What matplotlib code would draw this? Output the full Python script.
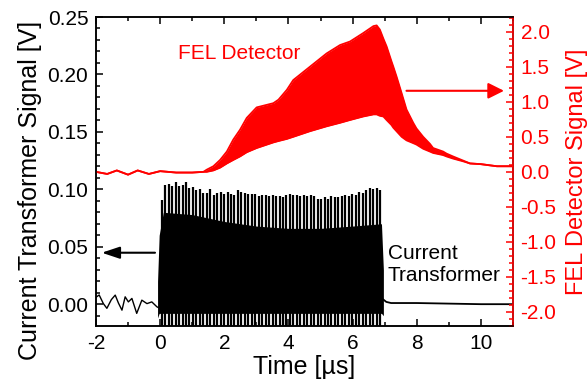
import numpy as np
import matplotlib
matplotlib.use("Agg")
import matplotlib.pyplot as plt
from matplotlib.ticker import MultipleLocator, FormatStrFormatter

plt.rcParams['font.family'] = ['Liberation Sans', 'DejaVu Sans']
plt.rcParams['axes.unicode_minus'] = False

# FEL detector signal (right axis), envelope of the fast oscillation
fel_t = [-2.0, -1.65, -1.35, -1.0, -0.7, -0.35, 0.0, 0.5, 1.0, 1.35,
         1.45, 1.66, 1.87, 2.08, 2.28, 2.49, 2.70, 3.01, 3.53, 3.69,
         3.95, 4.15, 4.67, 5.19, 5.61, 5.92, 6.33, 6.65, 6.75, 6.85,
         6.96, 7.06, 7.21, 7.27, 7.37, 7.53, 7.68, 7.89, 7.99, 8.20,
         8.41, 8.51, 8.82, 8.93, 9.13, 9.45, 9.66, 10.0, 10.5, 11.0]
fel_hi = [0.0, -0.03, 0.02, -0.04, 0.02, -0.03, 0.01, -0.01, -0.01, 0.0,
          0.03, 0.08, 0.17, 0.29, 0.46, 0.60, 0.77, 0.92, 0.98, 1.03,
          1.17, 1.31, 1.50, 1.69, 1.81, 1.86, 1.98, 2.08, 2.09, 2.03,
          1.90, 1.79, 1.58, 1.50, 1.36, 1.12, 0.89, 0.70, 0.62, 0.50,
          0.40, 0.34, 0.29, 0.26, 0.22, 0.16, 0.12, 0.11, 0.08, 0.08]
fel_lo = [0.0, -0.03, 0.02, -0.04, 0.02, -0.03, 0.01, -0.01, -0.01, 0.0,
          0.0, 0.02, 0.06, 0.12, 0.17, 0.22, 0.28, 0.34, 0.42, 0.44,
          0.47, 0.50, 0.58, 0.65, 0.70, 0.74, 0.79, 0.82, 0.82, 0.80,
          0.79, 0.74, 0.67, 0.63, 0.58, 0.50, 0.45, 0.41, 0.39, 0.33,
          0.29, 0.27, 0.24, 0.22, 0.19, 0.15, 0.12, 0.11, 0.08, 0.08]

# current transformer (left axis)
ct_pre_t = [-2.0, -1.9, -1.77, -1.66, -1.52, -1.40, -1.30, -1.19, -1.09,
            -0.99, -0.88, -0.73, -0.57, -0.41, -0.26, -0.10, -0.05]
ct_pre_v = [0.006, 0.008, 0.0005, -0.0036, 0.004, 0.0079, 0.001, -0.0052,
            0.0064, 0.002, 0.005, -0.008, 0.0035, 0.0005, 0.002, -0.0023, -0.003]
ct_post_t = [6.96, 7.05, 7.2, 8.0, 9.0, 10.0, 11.0]
ct_post_v = [0.004, 0.002, 0.001, 0.001, 0.0005, 0.0, 0.0]

# solid core of the bunch train
ct_core_t = [-0.08, -0.03, 0.1, 1.0, 2.0, 3.0, 4.0, 5.0, 6.0, 6.9, 6.96]
ct_core_hi = [0.02, 0.06, 0.08, 0.078, 0.072, 0.068, 0.066, 0.066, 0.068, 0.07, 0.03]
ct_core_lo = [-0.012, -0.008, -0.008, -0.008, -0.008, -0.008, -0.008, -0.008,
              -0.008, -0.008, -0.01]

# single bunch peaks
ct_bunch_start = 0.05
ct_bunch_spacing = 0.108
ct_peaks = [0.091, 0.104, 0.105, 0.103, 0.106, 0.103, 0.104, 0.106, 0.101, 0.102,
            0.099, 0.100, 0.097, 0.097, 0.100, 0.095, 0.097, 0.098, 0.096, 0.098,
            0.096, 0.095, 0.099, 0.098, 0.097, 0.096, 0.096, 0.096, 0.094, 0.095,
            0.095, 0.094, 0.095, 0.094, 0.094, 0.093, 0.095, 0.096, 0.095, 0.095,
            0.094, 0.095, 0.094, 0.095, 0.094, 0.092, 0.092, 0.093, 0.092, 0.094,
            0.093, 0.093, 0.094, 0.095, 0.094, 0.096, 0.095, 0.098, 0.097, 0.099,
            0.101, 0.100, 0.101, 0.099]

RED = '#ff0000'

fig = plt.figure(figsize=(5.87, 3.83), dpi=100)
ax = fig.add_axes([0.1635, 0.1488, 0.7104, 0.8068])
ax2 = ax.twinx()

# current transformer
ax.plot(ct_pre_t, ct_pre_v, color='k', lw=1.0)
ax.plot(ct_post_t, ct_post_v, color='k', lw=1.3)
ax.fill_between(ct_core_t, ct_core_lo, ct_core_hi, color='k', lw=0)
bunch_t = ct_bunch_start + ct_bunch_spacing * np.arange(len(ct_peaks))
ax.vlines(bunch_t, -0.03, ct_peaks, color='k', lw=1.6)

# FEL detector
ax2.fill_between(fel_t, fel_lo, fel_hi, color=RED, lw=0)
ax2.plot(fel_t, fel_hi, color=RED, lw=1.3)
ax2.plot(fel_t, fel_lo, color=RED, lw=1.3)

ax.set_xlim(-2, 11)
ax.set_ylim(-0.019, 0.25)
ax2.set_ylim(-2.2, 2.21)

ax.xaxis.set_major_locator(MultipleLocator(2))
ax.xaxis.set_minor_locator(MultipleLocator(1))
ax.yaxis.set_major_locator(MultipleLocator(0.05))
ax.yaxis.set_minor_locator(MultipleLocator(0.01))
ax.yaxis.set_major_formatter(FormatStrFormatter('%.2f'))
ax2.yaxis.set_major_locator(MultipleLocator(0.5))
ax2.yaxis.set_minor_locator(MultipleLocator(0.1))
ax2.yaxis.set_major_formatter(FormatStrFormatter('%.1f'))

ax.tick_params(which='both', direction='in', top=True, width=1.1, labelsize=15, pad=5.5)
ax.tick_params(which='major', length=5)
ax.tick_params(which='minor', length=3)
ax2.tick_params(which='both', direction='in', colors=RED, width=1.1, labelsize=15, pad=5.5)
ax2.tick_params(which='major', length=5)
ax2.tick_params(which='minor', length=3)

for s in ax.spines.values():
    s.set_linewidth(1.1)
for s in ax2.spines.values():
    s.set_linewidth(1.1)
ax2.spines['right'].set_color(RED)

ax.set_xlabel('Time [µs]', fontsize=18, labelpad=2)
ax.set_ylabel('Current Transformer Signal [V]', fontsize=18)
ax.yaxis.set_label_coords(-0.13, 0.44)
ax2.set_ylabel('FEL Detector Signal [V]', fontsize=17, color=RED)
ax2.yaxis.set_label_coords(1.128, 0.5)

ax.text(2.46, 1.69, 'FEL Detector', transform=ax2.transData, color=RED,
        fontsize=15, ha='center', va='center')
ax.text(7.1, 0.052, 'Current\nTransformer', color='k', fontsize=15,
        ha='left', va='top', linespacing=1.15)

ax.annotate('', xy=(-1.82, 0.0448), xytext=(-0.16, 0.0448),
            arrowprops=dict(arrowstyle='-|>,head_length=0.9,head_width=0.3',
                            mutation_scale=12, color='k', lw=1.5,
                            shrinkA=0, shrinkB=0))
ax2.annotate('', xy=(10.72, 1.157), xytext=(7.68, 1.157),
             arrowprops=dict(arrowstyle='-|>,head_length=0.8,head_width=0.4',
                             mutation_scale=12, color=RED, lw=1.5,
                             shrinkA=0, shrinkB=0))

fig.savefig('out.png', dpi=100)
